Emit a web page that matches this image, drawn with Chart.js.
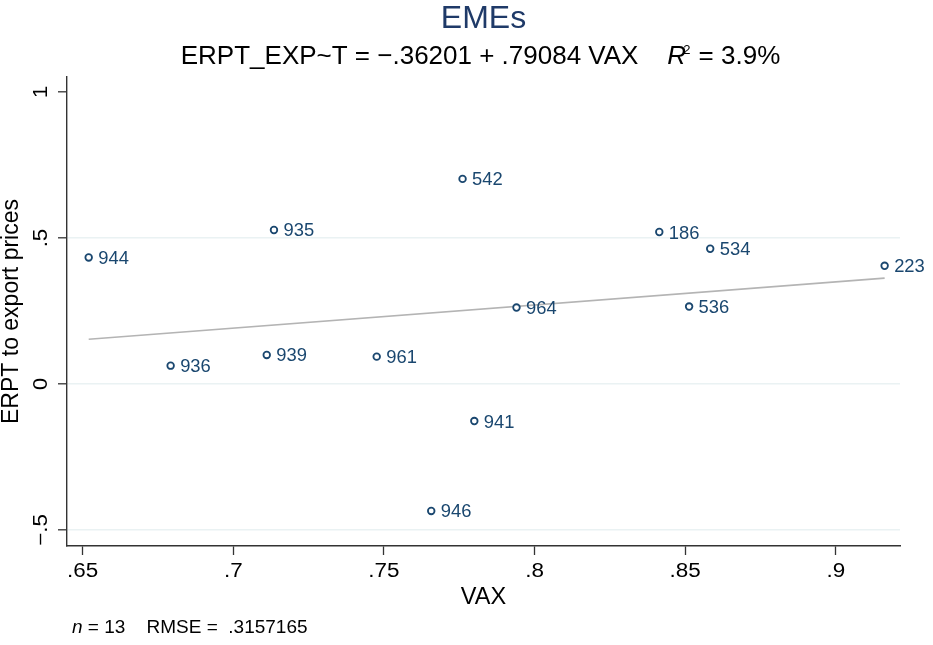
<!DOCTYPE html>
<html>
<head>
<meta charset="utf-8">
<title>EMEs</title>
<script src="https://cdn.jsdelivr.net/npm/chart.js@4.4.1/dist/chart.umd.min.js"></script>
<style>
  html, body { margin: 0; padding: 0; background: #fff; }
  canvas { display: block; }
</style>
</head>
<body>
<canvas id="chart" width="933" height="645"></canvas>
<script>
// data
const countryCodes = ['944', '936', '939', '935', '961', '946', '542', '941', '964', '186', '536', '534', '223'];
const vax  = [0.6520, 0.6792, 0.7111, 0.7135, 0.7476, 0.7657, 0.7761, 0.7800, 0.7940, 0.8414, 0.8513, 0.8583, 0.9162];
const erpt = [0.4334, 0.0628, 0.0995, 0.5275, 0.0937, -0.4348, 0.7025, -0.1270, 0.2618, 0.5206, 0.2653, 0.4633, 0.4049];

// fitted line end points
const fitX = [0.652, 0.9162];
const fitY = [0.153, 0.3625];

const xTicks = [0.65, 0.7, 0.75, 0.8, 0.85, 0.9];
const xTickLabels = ['.65', '.7', '.75', '.8', '.85', '.9'];
const yTicks = [-0.5, 0, 0.5, 1];
const yTickLabels = ['\u2212.5', '0', '.5', '1'];

const titleText = 'EMEs';
const subtitleText = 'ERPT_EXP~T = \u2212.36201 + .79084 VAX';
const r2Text = ' = 3.9%';
const xTitle = 'VAX';
const yTitle = 'ERPT to export prices';
const noteN = ' = 13    RMSE =  .3157165';

const FONT = '"Liberation Sans", Arial, Helvetica, sans-serif';
const NAVY = '#1a476f';

// draws one string; sx stretches it sideways a little (Stata digits run wide)
function put(ctx, str, x, y, size, color, align, opts) {
    opts = opts || {};
    ctx.save();
    ctx.font = (opts.italic ? 'italic ' : '') + size + 'px ' + FONT;
    ctx.fillStyle = color;
    ctx.textAlign = align || 'left';
    ctx.textBaseline = 'alphabetic';
    ctx.translate(x, y);
    if (opts.rotate) ctx.rotate(opts.rotate);
    if (opts.sx) ctx.scale(opts.sx, 1);
    ctx.fillText(str, 0, 0);
    ctx.restore();
}

function widthOf(ctx, str, size, italic) {
    ctx.save();
    ctx.font = (italic ? 'italic ' : '') + size + 'px ' + FONT;
    const w = ctx.measureText(str).width;
    ctx.restore();
    return w;
}

// all the Stata style text
const textPlugin = {
    id: 'stataText',
    afterDraw(chart) {
        const ctx = chart.ctx;
        const xs = chart.scales.x, ys = chart.scales.y;
        const area = chart.chartArea;
        const midX = (area.left + area.right) / 2;
        const midY = (area.top + area.bottom) / 2;

        // title + subtitle
        put(ctx, titleText, midX, 28, 32, '#1f3a68', 'center');
        const fs = 26;
        const s1 = widthOf(ctx, subtitleText + '    ', fs);
        const s2 = widthOf(ctx, 'R', fs, true);
        const s3 = widthOf(ctx, '2', 13);
        const s4 = widthOf(ctx, r2Text, fs);
        let sx = midX - 2 - (s1 + s2 + s3 + s4) / 2;
        put(ctx, subtitleText, sx, 64, fs, '#000');
        sx += s1;
        put(ctx, 'R', sx, 64, fs, '#000', 'left', { italic: true });
        sx += s2;
        put(ctx, '2', sx - 3, 54, 13, '#000');
        sx += s3 - 2;
        put(ctx, r2Text, sx, 64, fs, '#000');

        // tick labels
        xTicks.forEach((v, i) => {
            put(ctx, xTickLabels[i], xs.getPixelForValue(v), 577, 19.5, '#000', 'center', { sx: 1.15 });
        });
        yTicks.forEach((v, i) => {
            put(ctx, yTickLabels[i], 47, ys.getPixelForValue(v), 19.5, '#000', 'center',
                { rotate: -Math.PI / 2, sx: 1.15 });
        });

        // axis titles
        put(ctx, xTitle, midX, 604, 23.5, '#000', 'center');
        put(ctx, yTitle, 17.5, midY, 23, '#000', 'center', { rotate: -Math.PI / 2 });

        // marker labels
        const pts = chart.getDatasetMeta(0).data;
        pts.forEach((p, i) => {
            put(ctx, countryCodes[i], p.x + 9.5, p.y + 6.5, 17.5, NAVY, 'left', { sx: 1.05 });
        });

        // note
        put(ctx, 'n', 72, 633, 19, '#000', 'left', { italic: true });
        put(ctx, noteN, 72 + widthOf(ctx, 'n', 19, true), 633, 19, '#000', 'left');
    }
};

const points = vax.map((v, i) => ({ x: v, y: erpt[i] }));
const fitLine = fitX.map((v, i) => ({ x: v, y: fitY[i] }));

new Chart(document.getElementById('chart'), {
    type: 'scatter',
    data: {
        datasets: [{
            label: 'ERPT to export prices',
            data: points,
            pointStyle: 'circle',
            pointRadius: 3.3,
            pointBorderWidth: 1.8,
            pointBackgroundColor: '#ffffff',
            pointBorderColor: NAVY,
            showLine: false
        }, {
            label: 'Fitted values',
            data: fitLine,
            showLine: true,
            borderColor: '#b4b4b4',
            borderWidth: 1.6,
            pointRadius: 0,
            fill: false
        }]
    },
    options: {
        responsive: false,
        animation: false,
        layout: { padding: { left: 58, right: 33, top: 77, bottom: 90 } },
        plugins: {
            legend: { display: false },
            tooltip: { enabled: false }
        },
        scales: {
            x: {
                type: 'linear',
                min: 0.6448,
                max: 0.9213,
                afterBuildTicks: (scale) => { scale.ticks = xTicks.map(v => ({ value: v })); },
                ticks: { display: false },
                grid: {
                    drawOnChartArea: false,
                    drawTicks: true,
                    tickLength: 9,
                    tickColor: '#333',
                    tickWidth: 1.3
                },
                border: { display: true, color: '#333', width: 1.4 }
            },
            y: {
                type: 'linear',
                min: -0.5549,
                max: 1.0515,
                afterBuildTicks: (scale) => { scale.ticks = yTicks.map(v => ({ value: v })); },
                ticks: { display: false },
                grid: {
                    drawOnChartArea: true,
                    color: (c) => (c.tick && c.tick.value === 1) ? 'rgba(0,0,0,0)' : '#eaf2f3',
                    lineWidth: 1.6,
                    drawTicks: true,
                    tickLength: 9,
                    tickColor: '#333',
                    tickWidth: 1.3
                },
                border: { display: true, color: '#333', width: 1.4 }
            }
        }
    },
    plugins: [textPlugin]
});
</script>
</body>
</html>
